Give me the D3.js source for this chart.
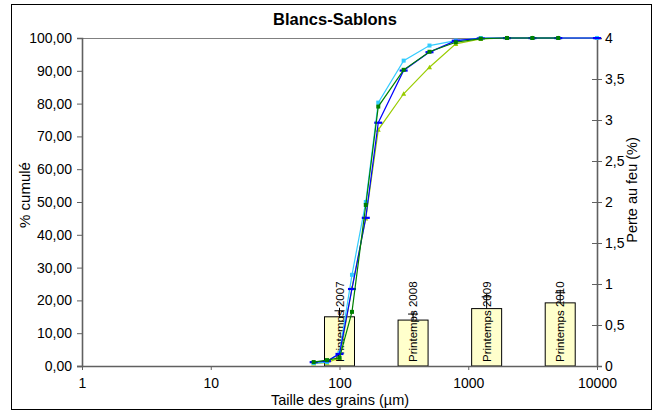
<!DOCTYPE html>
<html><head><meta charset="utf-8">
<script src="https://cdn.jsdelivr.net/npm/d3@7"></script>
<style>
html,body{margin:0;padding:0;background:#fff;}
text{font-family:"Liberation Sans",Arial,sans-serif;}
</style></head>
<body>
<svg id="c" width="660" height="414"></svg>
<script>
const title = "Blancs-Sablons";
const sizes = [63, 80, 100, 125, 160, 200, 315, 500, 800, 1250, 2000, 3150, 5000, 10000];
const serBlue   = [1.2, 1.5, 3.7, 23.5, 45.2, 74.2, 90.1, 95.7, 99.2, 99.9, 100, 100, 100, 100];
const serGreen  = [1.2, 1.8, 2.5, 16.5, 49.1, 79.1, 90.3, 95.8, 98.7, 99.8, 100, 100, 100, null];
const serCyan   = [0.9, 1.2, 4.0, 27.8, 50.0, 80.3, 93.1, 97.7, 99.2, 100, 100, 100, 100, 100];
const serYGreen = [0.8, 1.0, 2.5, 23.8, 45.0, 72.0, 83.0, 91.1, 98.2, 99.7, 100, 100, 100, 100];
const barSlots = ["s1", "s2", "s3", "Printemps 2007", "Printemps 2008", "Printemps 2009", "Printemps 2010"];
const barCats = ["Printemps 2007", "Printemps 2008", "Printemps 2009", "Printemps 2010"];
const barVals = [0.60, 0.56, 0.70, 0.77];
const barErr = [0.11, 0.11, 0.18, 0.16];
const xTicks = [1, 10, 100, 1000, 10000];
const yTicks = [0, 10, 20, 30, 40, 50, 60, 70, 80, 90, 100];
const y2Ticks = [0, 0.5, 1, 1.5, 2, 2.5, 3, 3.5, 4];

const svg = d3.select("#c");
const L = 82, R = 597, T = 38, B = 366;
const x = d3.scaleLog().domain([1, 10000]).range([L, R]);
const y = d3.scaleLinear().domain([0, 100]).range([B, T]);
const y2 = d3.scaleLinear().domain([0, 4]).range([B, T]);
const xb = d3.scaleBand().domain(barSlots).range([L, R]);
const comma = f => v => f(v).replace(".", ",");

svg.append("rect").attr("x", 11.5).attr("y", 4.5).attr("width", 640).attr("height", 405)
  .attr("fill", "#fff").attr("stroke", "#000").attr("stroke-width", 1);

svg.append("text").attr("x", 335).attr("y", 24.5).attr("text-anchor", "middle")
  .attr("font-weight", "bold").attr("font-size", 16.5).text(title);

// top line
svg.append("line").attr("x1", L).attr("x2", R).attr("y1", T + 0.5).attr("y2", T + 0.5)
  .attr("stroke", "#808080");

// bars
const bw = 30;
const bars = svg.append("g");
barCats.forEach((c, i) => {
  const cx = xb(c) + xb.bandwidth() / 2;
  bars.append("rect").attr("x", cx - bw / 2).attr("y", y2(barVals[i]))
    .attr("width", bw).attr("height", y2(0) - y2(barVals[i]))
    .attr("fill", "#FFFFCC").attr("stroke", "#000").attr("stroke-width", 1);
});

// axes
const ax = svg.append("g").attr("transform", `translate(0,${B})`)
  .call(d3.axisBottom(x).tickValues(xTicks).tickFormat(d3.format("d")).tickSize(4).tickPadding(8));
const ay = svg.append("g").attr("transform", `translate(${L},0)`)
  .call(d3.axisLeft(y).tickValues(yTicks).tickFormat(comma(d3.format(".2f"))).tickSize(5).tickPadding(5));
const ay2 = svg.append("g").attr("transform", `translate(${R},0)`)
  .call(d3.axisRight(y2).tickValues(y2Ticks).tickFormat(v => String(v).replace(".", ",")).tickSize(5).tickPadding(3));
ay2.selectAll(".tick line").attr("x1", -5);
[ax, ay, ay2].forEach(g => {
  g.select(".domain").attr("stroke", "#606060").attr("stroke-width", 1.6);
  g.selectAll(".tick line").attr("stroke", "#606060");
  g.selectAll("text").attr("font-size", 14).attr("fill", "#000").attr("font-family", "Liberation Sans, Arial, sans-serif");
});
ax.select(".domain").attr("d", `M${L - 5},0.5H${R}`);

// bar labels and error bars
barCats.forEach((c, i) => {
  const cx = xb(c) + xb.bandwidth() / 2;
  bars.append("text").attr("transform", `translate(${cx + 4},${B - 4}) rotate(-90)`)
    .attr("font-size", 11.5).text(c);
  const yt = y2(barVals[i]), ye = y2(barVals[i] + barErr[i]);
  bars.append("line").attr("x1", cx).attr("x2", cx).attr("y1", yt).attr("y2", ye).attr("stroke", "#000");
  bars.append("line").attr("x1", cx - 5).attr("x2", cx + 5).attr("y1", ye + 3).attr("y2", ye + 3).attr("stroke", "#000");
});

// series
const series = [
  {vals: serYGreen, color: "#99CC00", marker: "tri"},
  {vals: serCyan, color: "#33CCFF", marker: "sq"},
  {vals: serBlue, color: "#0000FF", marker: "dash"},
  {vals: serGreen, color: "#008000", marker: "sq"}
];
const line = d3.line().defined(d => d[1] != null).x(d => x(d[0])).y(d => y(d[1]));
series.forEach(s => {
  const pts = sizes.map((v, i) => [v, s.vals[i]]);
  svg.append("path").attr("d", line(pts)).attr("fill", "none").attr("stroke", s.color).attr("stroke-width", 1.2);
  const g = svg.append("g");
  pts.filter(d => d[1] != null).forEach(d => {
    const px = x(d[0]), py = y(d[1]);
    if (s.marker === "dash") {
      g.append("rect").attr("x", px - 4).attr("y", py - 1).attr("width", 8).attr("height", 2.2).attr("fill", s.color);
    } else if (s.marker === "sq") {
      g.append("rect").attr("x", px - 2).attr("y", py - 2).attr("width", 4).attr("height", 4).attr("fill", s.color);
    } else {
      g.append("path").attr("d", `M${px},${py - 2.5}L${px + 2.5},${py + 2}L${px - 2.5},${py + 2}Z`).attr("fill", s.color);
    }
  });
});

// axis titles
svg.append("text").attr("transform", "translate(30,195) rotate(-90)").attr("text-anchor", "middle")
  .attr("font-size", 15).text("% cumulé");
svg.append("text").attr("transform", "translate(637,190) rotate(-90)").attr("text-anchor", "middle")
  .attr("font-size", 14.5).text("Perte au feu (%)");
svg.append("text").attr("x", 340).attr("y", 405).attr("text-anchor", "middle")
  .attr("font-size", 14.5).text("Taille des grains (µm)");
</script>
</body></html>
